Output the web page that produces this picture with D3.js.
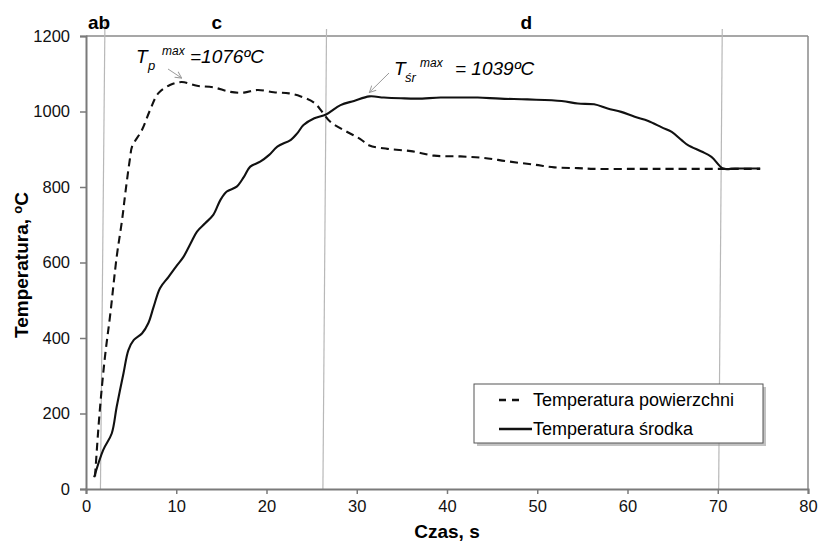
<!DOCTYPE html>
<html>
<head>
<meta charset="utf-8">
<title>Temperatura powierzchni i środka</title>
<script src="https://d3js.org/d3.v7.min.js"></script>
<style>
body { margin: 0; background: #fff; }
text { font-family: "Liberation Sans", Arial, sans-serif; }
</style>
</head>
<body>
<svg id="chart" width="820" height="545"></svg>
<script>
// czas (s) i temperatura (°C)
const timeSurface = [1.0, 1.5, 2.1, 2.7, 3.4, 4.0, 4.4, 4.9, 5.1, 6.2, 7.1, 8.0, 9.3, 10.6, 12.3, 14.1, 16.0, 17.5, 19.0, 20.8, 22.5, 23.8, 25.3, 26.2, 27.1, 29.0, 30.4, 31.4, 33.4, 36.0, 38.6, 41.5, 44.1, 46.7, 49.7, 51.9, 54.5, 56.3, 60.8, 65.0, 70.6, 74.7];
const tempSurface = [33, 200, 350, 465, 615, 713, 792, 880, 907, 951, 1004, 1048, 1070, 1078, 1068, 1064, 1052, 1050, 1057, 1051, 1048, 1040, 1023, 998, 972, 945, 927, 910, 901, 895, 883, 881, 877, 868, 859, 852, 850, 848, 848, 848, 848, 848];

const timeCenter = [0.9, 1.9, 2.85, 3.4, 4.15, 4.7, 5.3, 6.2, 6.9, 7.5, 8.2, 9.15, 10.1, 10.8, 11.6, 12.3, 13.2, 14.1, 14.9, 15.6, 16.7, 17.5, 18.2, 19.3, 20.3, 21.2, 22.7, 23.4, 24.1, 25.3, 26.6, 28.2, 29.7, 31.4, 33.0, 34.9, 36.7, 39.3, 41.5, 43.4, 45.9, 48.9, 52.7, 54.5, 56.3, 57.8, 59.3, 60.8, 62.3, 63.8, 64.9, 66.0, 66.7, 68.2, 69.3, 70.6, 71.9, 74.7];
const tempCenter = [31, 103, 147, 218, 306, 368, 395, 412, 439, 483, 532, 562, 593, 615, 651, 682, 704, 726, 766, 788, 801, 827, 854, 867, 885, 907, 925, 942, 964, 982, 992, 1017, 1028, 1040, 1037, 1035, 1034, 1037, 1037, 1037, 1034, 1032, 1028, 1021, 1019, 1008, 999, 986, 975, 958, 946, 924, 911, 894, 880, 849, 849, 849];

const xTicks = [0, 10, 20, 30, 40, 50, 60, 70, 80];
const yTicks = [0, 200, 400, 600, 800, 1000, 1200];

// granice etapów (lekko pochylone linie): góra / dół
const phaseTop = [2.1, 26.65, 70.5];
const phaseBottom = [1.6, 26.25, 70.1];
const phaseNames = ["ab", "c", "d"];
const phaseNameAt = [1.45, 14.5, 48.8];

const seriesNames = ["Temperatura powierzchni", "Temperatura środka"];
const peakSurface = { t: 10.6, v: 1078, sub: "p", label: "=1076ºC" };
const peakCenter = { t: 31.4, v: 1040, sub: "śr", label: "= 1039ºC" };

const svg = d3.select("#chart");
const LEFT = 86, RIGHT = 808, TOP = 36, BOTTOM = 489;

const x = d3.scaleLinear().domain([0, 80]).range([LEFT, RIGHT]);
const y = d3.scaleLinear().domain([0, 1200]).range([BOTTOM, TOP]);

// ramka
svg.append("line").attr("x1", LEFT).attr("x2", RIGHT).attr("y1", TOP).attr("y2", TOP)
   .attr("stroke", "#8a8a8a").attr("stroke-width", 1.5);
svg.append("line").attr("x1", RIGHT).attr("x2", RIGHT).attr("y1", TOP).attr("y2", BOTTOM)
   .attr("stroke", "#8a8a8a").attr("stroke-width", 1.5);

// linie etapów
svg.selectAll(".phase").data(phaseTop).enter().append("line")
   .attr("class", "phase")
   .attr("x1", (d) => x(d)).attr("y1", (d, i) => i == 0 ? 21 : 29)
   .attr("x2", (d, i) => x(phaseBottom[i])).attr("y2", BOTTOM)
   .attr("stroke", "#b8b8b8").attr("stroke-width", 1.2);

svg.selectAll(".phaseName").data(phaseNames).enter().append("text")
   .attr("x", (d, i) => x(phaseNameAt[i])).attr("y", 29)
   .attr("text-anchor", "middle")
   .style("font-size", "19px").style("font-weight", "bold")
   .text((d) => d);

// osie
const xAxis = d3.axisBottom(x).tickValues(xTicks).tickSize(5).tickPadding(6).tickFormat(d3.format("d"));
const yAxis = d3.axisLeft(y).tickValues(yTicks).tickSize(6).tickPadding(10).tickFormat(d3.format("d"));

const gx = svg.append("g").attr("transform", `translate(0, ${BOTTOM})`).call(xAxis);
const gy = svg.append("g").attr("transform", `translate(${LEFT}, 0)`).call(yAxis);
[gx, gy].forEach(g => {
    g.select(".domain").attr("stroke", "#7a7a7a").attr("stroke-width", 2);
    g.selectAll(".tick line").attr("stroke", "#7a7a7a").attr("stroke-width", 1.5);
    g.selectAll(".tick text").style("font-size", "16.5px").attr("fill", "#111")
     .style("font-family", "'Liberation Sans', Arial, sans-serif");
});

svg.append("text").attr("x", x(40)).attr("y", 538)
   .attr("text-anchor", "middle")
   .style("font-size", "19px").style("font-weight", "bold")
   .text("Czas, s");

const yTitle = svg.append("text")
   .attr("transform", "translate(28, 265) rotate(-90)")
   .attr("text-anchor", "middle")
   .style("font-size", "19px").style("font-weight", "bold");
yTitle.append("tspan").text("Temperatura, ");
yTitle.append("tspan").attr("dy", -6).style("font-size", "13px").text("o");
yTitle.append("tspan").attr("dy", 6).text("C");

// krzywe
const line = d3.line()
    .x((d) => x(d[0]))
    .y((d) => y(d[1]))
    .curve(d3.curveCatmullRom.alpha(0.5));

svg.append("path")
   .datum(d3.zip(timeSurface, tempSurface))
   .attr("d", line)
   .attr("fill", "none").attr("stroke", "#111").attr("stroke-width", 2.1)
   .attr("stroke-dasharray", "8,5");

svg.append("path")
   .datum(d3.zip(timeCenter, tempCenter))
   .attr("d", line)
   .attr("fill", "none").attr("stroke", "#111").attr("stroke-width", 2.1);

// adnotacje
svg.append("defs").append("marker")
   .attr("id", "arr").attr("viewBox", "0 0 10 10")
   .attr("refX", 9).attr("refY", 5)
   .attr("markerWidth", 8).attr("markerHeight", 8)
   .attr("orient", "auto-start-reverse")
   .append("path").attr("d", "M1,1 L9,5 L1,9")
   .attr("fill", "none").attr("stroke", "#9a9a9a").attr("stroke-width", 1.2);

function annotate(peak, px, py, subX, maxX, labelX, ax, ay) {
    const g = svg.append("g").style("font-style", "italic");
    g.append("text").attr("x", px).attr("y", py).style("font-size", "19px").text("T");
    g.append("text").attr("x", subX).attr("y", py + 7).style("font-size", "13px").text(peak.sub);
    g.append("text").attr("x", maxX).attr("y", py - 8).style("font-size", "12px").text("max");
    g.append("text").attr("x", labelX).attr("y", py).style("font-size", "19px").text(peak.label);
    svg.append("line")
       .attr("x1", ax).attr("y1", ay)
       .attr("x2", x(peak.t)).attr("y2", y(peak.v) - 4)
       .attr("stroke", "#9a9a9a").attr("stroke-width", 1)
       .attr("marker-end", "url(#arr)");
}
annotate(peakSurface, 136, 63, 148, 162, 190, 168, 69);
annotate(peakCenter, 394, 75, 405, 420, 455, 389, 73);

// legenda
const legend = svg.append("g").attr("transform", "translate(474, 384)");
legend.append("rect").attr("x", 3).attr("y", 3).attr("width", 289).attr("height", 59)
      .attr("fill", "#9a9a9a").attr("opacity", 0.6);
legend.append("rect").attr("width", 289).attr("height", 59)
      .attr("fill", "#fff").attr("stroke", "#555").attr("stroke-width", 1);
seriesNames.forEach((name, i) => {
    const yy = 16 + i * 29;
    legend.append("line").attr("x1", 25).attr("x2", i == 0 ? 47 : 58)
          .attr("y1", yy).attr("y2", yy)
          .attr("stroke", "#111").attr("stroke-width", 2.4)
          .attr("stroke-dasharray", i == 0 ? "7,6" : null);
    legend.append("text").attr("x", 59).attr("y", yy + 6)
          .style("font-size", "18px").text(name);
});
</script>
</body>
</html>
